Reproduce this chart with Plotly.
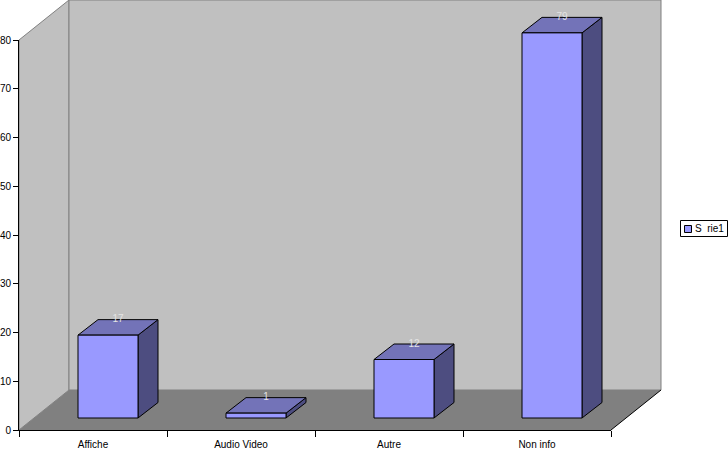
import plotly.graph_objects as go

categories = ["Affiche", "Audio Video", "Autre", "Non info"]
series_name = "S  rie1"
values = [17, 1, 12, 79]
y_ticks = [0, 10, 20, 30, 40, 50, 60, 70, 80]

W, H = 728, 452
X0, X1, Y0, Y80 = 19, 611, 430, 40   # pixel frame of the front axes
CAT_PX = (X1 - X0) / len(categories)
VAL_PX = (Y0 - Y80) / 80
WALL_DX, WALL_DY = 50 / CAT_PX, 40 / VAL_PX      # depth of the room
BAR_DX, BAR_DY = 20 / CAT_PX, 15.5 / VAL_PX      # depth of a bar
SHIFT_X, SHIFT_Y = 15 / CAT_PX, 12 / VAL_PX      # bars stand inside the floor
HALF = 30 / CAT_PX
N = len(categories)
TOP = 80


def poly(pts, fill, line=None, width=1):
    xs = [p[0] for p in pts] + [pts[0][0]]
    ys = [p[1] for p in pts] + [pts[0][1]]
    return go.Scatter(x=xs, y=ys, mode="lines", fill="toself", fillcolor=fill,
                      line=dict(color=line or fill, width=width if line else 0),
                      hoverinfo="skip", showlegend=False, xaxis="x", yaxis="y")


def seg(pts, color):
    return go.Scatter(x=[p[0] for p in pts], y=[p[1] for p in pts], mode="lines",
                      line=dict(color=color, width=1), hoverinfo="skip",
                      showlegend=False, xaxis="x", yaxis="y")


fig = go.Figure()
# left wall, back wall, floor
fig.add_trace(poly([(0, 0), (WALL_DX, WALL_DY), (WALL_DX, TOP + WALL_DY), (0, TOP)], "#C0C0C0", "#808080"))
fig.add_trace(poly([(WALL_DX, WALL_DY), (N + WALL_DX, WALL_DY), (N + WALL_DX, TOP + WALL_DY),
                    (WALL_DX, TOP + WALL_DY)], "#C0C0C0", "#808080"))
fig.add_trace(poly([(0, 0), (N, 0), (N + WALL_DX, WALL_DY), (WALL_DX, WALL_DY)], "#808080"))
fig.add_trace(seg([(N, 0), (N + WALL_DX, WALL_DY)], "#000000"))

# bars
label_x, label_y = [], []
for i, v in enumerate(values):
    c = i + 0.5 + SHIFT_X
    l, r = c - HALF, c + HALF
    b, t = SHIFT_Y, SHIFT_Y + v
    fig.add_trace(poly([(r, b), (r + BAR_DX, b + BAR_DY), (r + BAR_DX, t + BAR_DY), (r, t)], "#4D4D80", "#000000"))
    fig.add_trace(poly([(l, t), (r, t), (r + BAR_DX, t + BAR_DY), (l + BAR_DX, t + BAR_DY)], "#7373B8", "#000000"))
    fig.add_trace(poly([(l, b), (r, b), (r, t), (l, t)], "#9999FF", "#000000"))
    label_x.append(c + BAR_DX / 2)
    label_y.append(t + BAR_DY)

fig.add_trace(go.Scatter(x=label_x, y=label_y, mode="text", text=[str(v) for v in values],
                         textposition="middle center", cliponaxis=False,
                         textfont=dict(family="Liberation Sans", size=10, color="#E4E4E4"),
                         hoverinfo="skip", showlegend=False, xaxis="x", yaxis="y"))

# invisible trace that carries the visible axes
fig.add_trace(go.Scatter(x=[0, N], y=[0, 80], mode="markers", marker=dict(opacity=0),
                         hoverinfo="skip", showlegend=False, xaxis="x2", yaxis="y2"))

font = dict(family="Liberation Sans", size=10, color="#000000")
fig.update_layout(
    template="none",
    width=W, height=H, margin=dict(l=0, r=0, t=0, b=0, pad=0), autosize=False,
    paper_bgcolor="#FFFFFF", plot_bgcolor="rgba(0,0,0,0)", font=font, showlegend=False,
    xaxis=dict(domain=[0, 1], range=[-X0 / CAT_PX, (W - X0) / CAT_PX], visible=False, fixedrange=True,
               automargin=False),
    yaxis=dict(domain=[0, 1], range=[-(H - Y0) / VAL_PX, Y0 / VAL_PX], visible=False, fixedrange=True,
               automargin=False),
    xaxis2=dict(domain=[X0 / W, X1 / W], range=[0, N], anchor="y2", showgrid=False, zeroline=False,
                automargin=False, showline=True, linecolor="#000000", linewidth=1,
                tickmode="array", tickvals=[i + 0.5 for i in range(N)], ticktext=categories,
                ticks="", ticklen=0, ticklabelstandoff=5, tickfont=font,
                minor=dict(tickmode="array", tickvals=list(range(N + 1)), ticks="outside",
                           ticklen=6, tickcolor="#000000", tickwidth=1, showgrid=False)),
    yaxis2=dict(domain=[(H - Y0) / H, (H - Y80) / H], range=[0, 80], anchor="x2", showgrid=False,
                automargin=False, zeroline=False, showline=True, linecolor="#000000", linewidth=1,
                tickmode="array", tickvals=y_ticks, ticks="outside", ticklen=5,
                tickcolor="#000000", tickwidth=1, tickfont=font),
    shapes=[
        dict(type="rect", xref="paper", yref="paper", x0=680.5 / W, x1=727.5 / W,
             y0=1 - 236.5 / H, y1=1 - 220.5 / H, line=dict(color="#000000", width=1), fillcolor="#FFFFFF"),
        dict(type="rect", xref="paper", yref="paper", x0=684.5 / W, x1=691.5 / W,
             y0=1 - 232.5 / H, y1=1 - 225.5 / H, line=dict(color="#000000", width=1), fillcolor="#9999FF"),
    ],
    annotations=[
        dict(xref="paper", yref="paper", x=692.5 / W, y=1 - 228.5 / H, xanchor="left", yanchor="middle",
             text=series_name.replace("  ", "\u00a0\u00a0"), showarrow=False, font=font),
    ],
)
fig.write_html("out.html", config=dict(displayModeBar=False),
               post_script="document.body.style.margin='0';document.documentElement.style.overflow='hidden';")
